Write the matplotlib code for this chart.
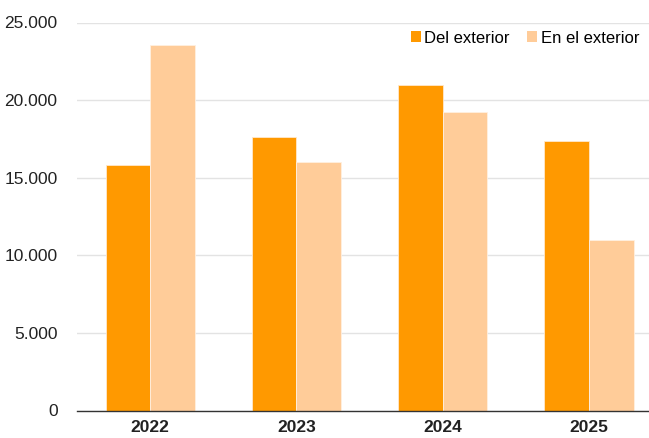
import matplotlib
matplotlib.use("Agg")
import matplotlib.pyplot as plt
import numpy as np
from matplotlib.ticker import FuncFormatter
from matplotlib.patches import Patch

plt.rcParams['font.family'] = ['Liberation Sans', 'DejaVu Sans']

years = ['2022', '2023', '2024', '2025']
del_exterior = [15800, 17600, 21000, 17350]
en_el_exterior = [23550, 16000, 19250, 11000]
series_names = ['Del exterior', 'En el exterior']
colors = ['#FF9900', '#FFCC99']

fig = plt.figure(figsize=(6.49, 4.38), dpi=100)
ax = fig.add_axes([77/649, 27.5/438, (649-77)/649, 388/438])

x = np.arange(len(years))
w = 0.305
ax.bar(x - w/2, del_exterior, w, color=colors[0], edgecolor='#FFE8CC', linewidth=0.6, zorder=3)
ax.bar(x + w/2, en_el_exterior, w, color=colors[1], edgecolor='#FFF0E0', linewidth=0.6, zorder=3)

ax.set_ylim(0, 25000)
ax.set_xlim(-0.5, 3.41)
ax.set_yticks([0, 5000, 10000, 15000, 20000, 25000])
ax.yaxis.set_major_formatter(FuncFormatter(lambda v, p: f"{int(v):,}".replace(',', '.')))
ax.set_xticks(x)
ax.set_xticklabels(years, fontweight='bold')
ax.tick_params(axis='both', length=0, labelsize=12.5, colors='#222222')
ax.tick_params(axis='y', pad=14)
ax.tick_params(axis='x', pad=7)
ax.grid(axis='y', color='#E3E3E3', linewidth=1, zorder=0)
for s in ['top', 'right', 'left']:
    ax.spines[s].set_visible(False)
ax.spines['bottom'].set_color('#333333')
ax.spines['bottom'].set_linewidth(1)
ax.spines['bottom'].set_zorder(4)

handles = [Patch(facecolor=colors[0]), Patch(facecolor=colors[1])]
ax.legend(handles, series_names, loc='upper right', bbox_to_anchor=(1.0, 1.005),
          ncol=2, frameon=False, fontsize=12, handlelength=0.6, handleheight=0.6,
          handletextpad=0.2, columnspacing=1.05, borderaxespad=0.2)

fig.savefig('out.png', dpi=100)
